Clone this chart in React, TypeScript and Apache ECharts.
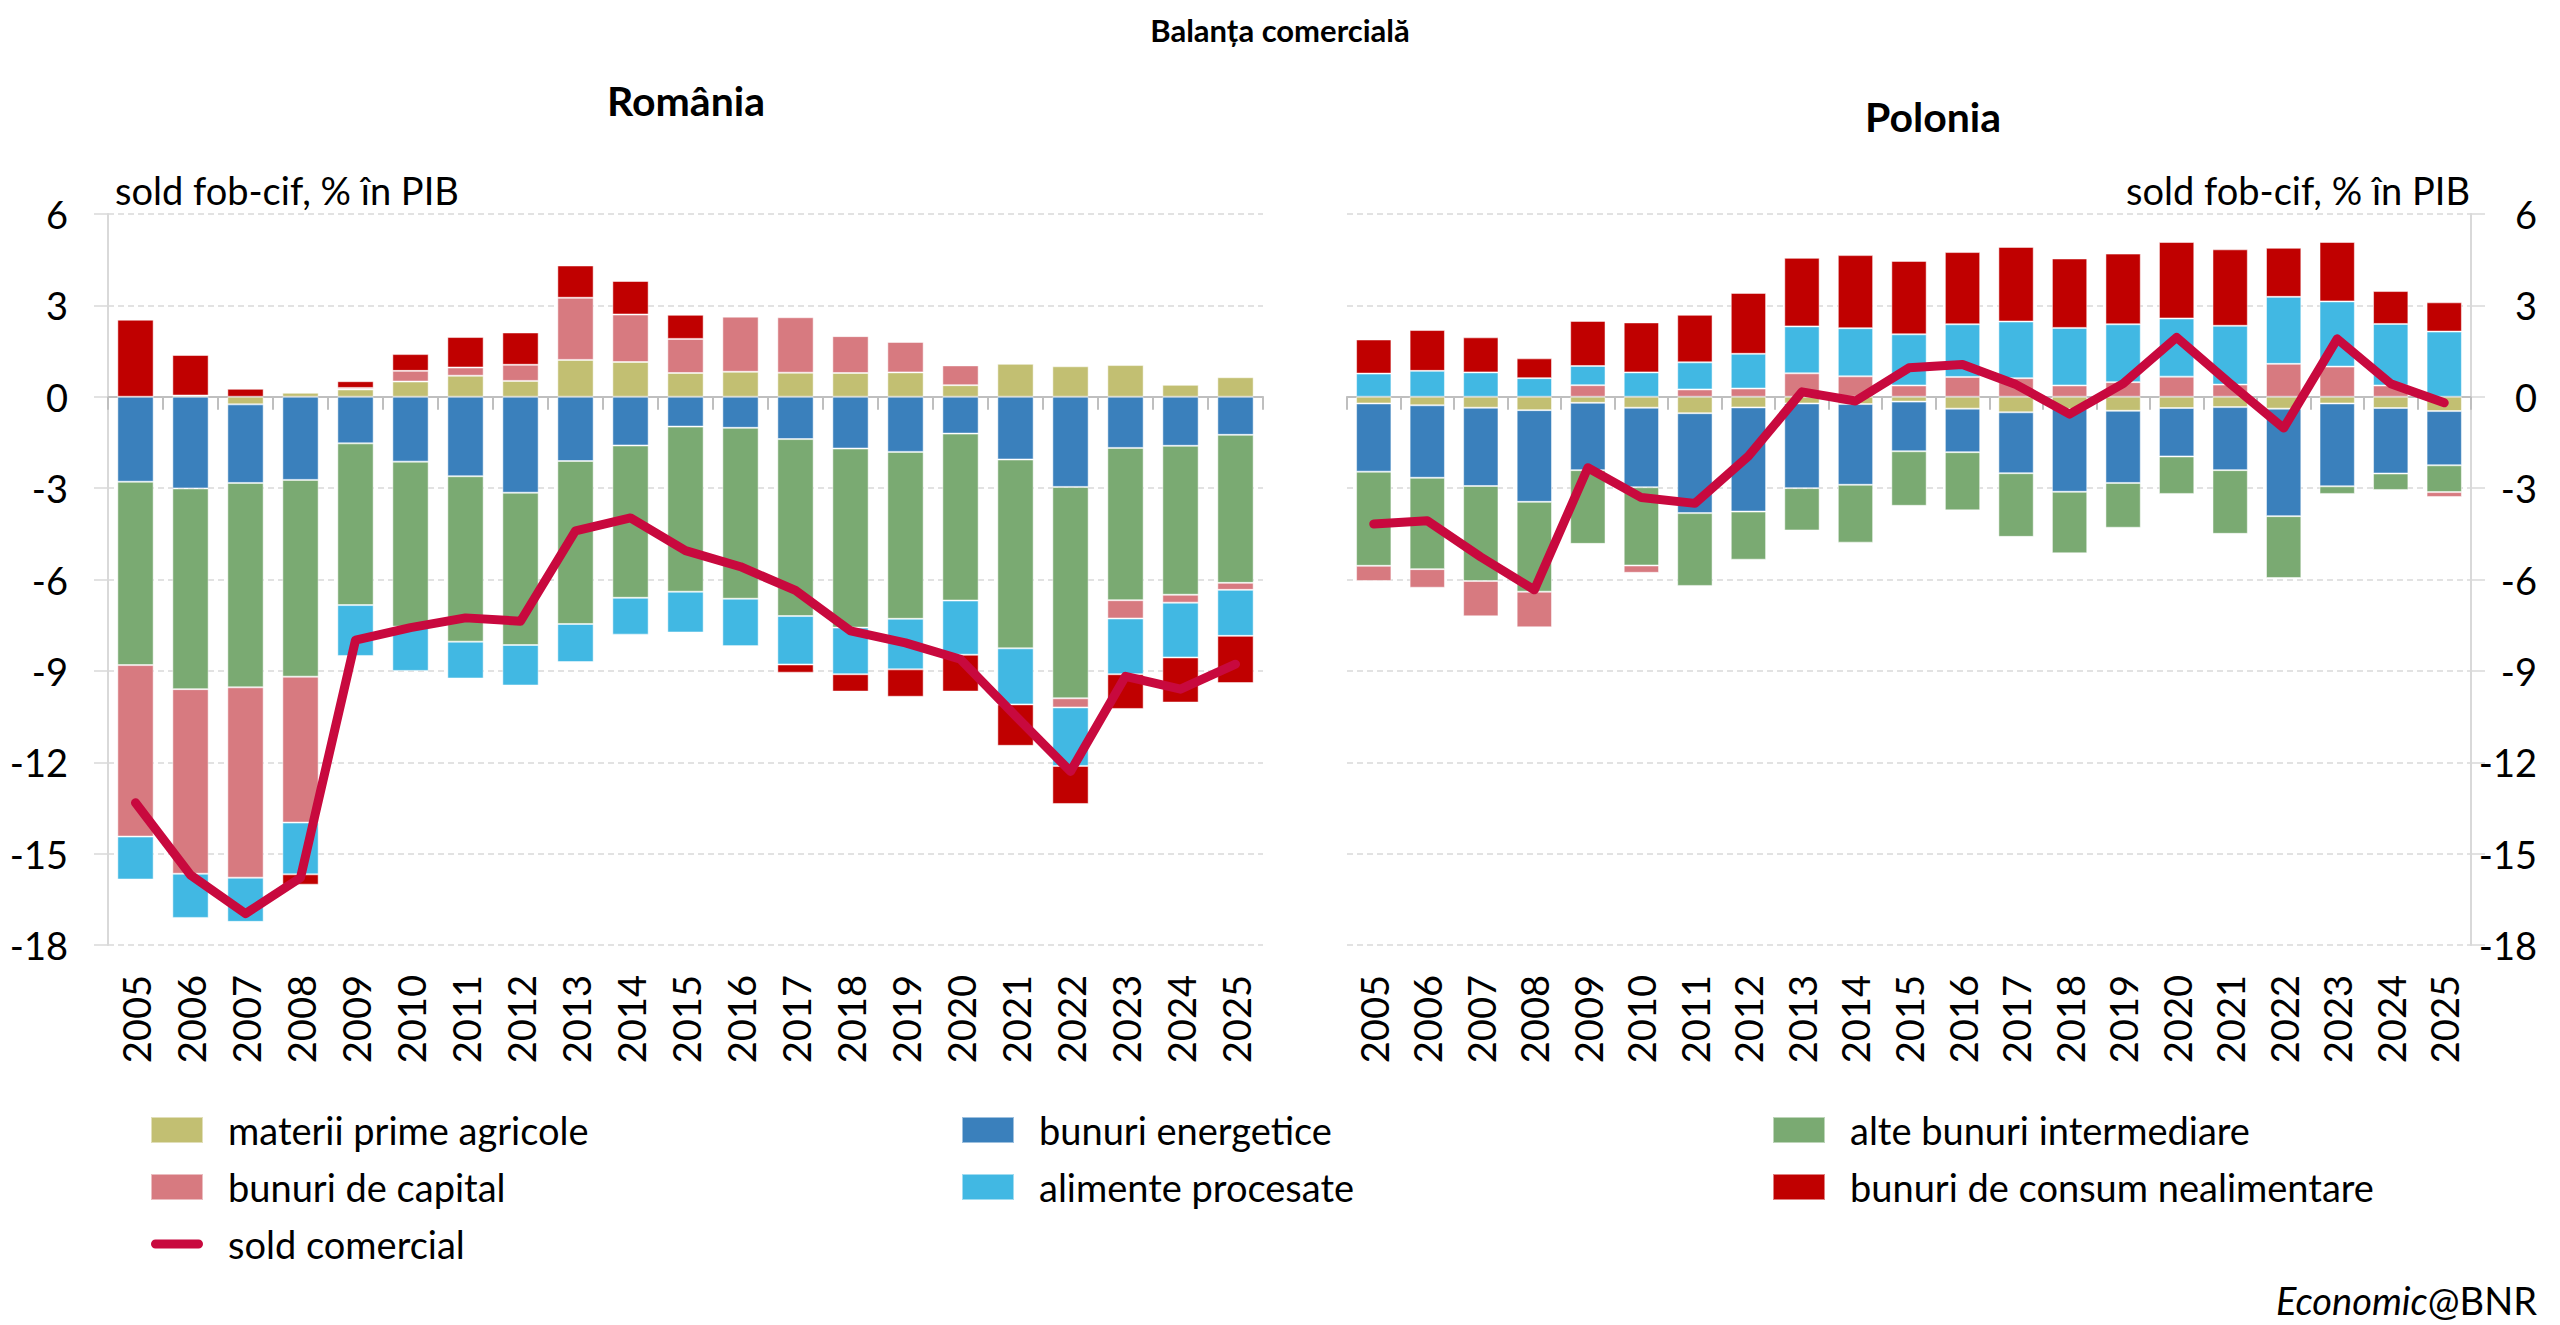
import { useEffect, useRef } from 'react'
import * as echarts from 'echarts'

const years = [
  '2005', '2006', '2007', '2008', '2009', '2010', '2011', '2012', '2013', '2014', '2015',
  '2016', '2017', '2018', '2019', '2020', '2021', '2022', '2023', '2024', '2025',
]

// România, % in PIB
const roAgri = [0, 0.04, -0.25, 0.13, 0.24, 0.5, 0.69, 0.52, 1.21, 1.14, 0.78, 0.82, 0.79, 0.78, 0.8, 0.38, 1.08, 1.0, 1.04, 0.39, 0.64]
const roEnerg = [-2.79, -3.01, -2.58, -2.73, -1.53, -2.13, -2.61, -3.15, -2.11, -1.6, -0.98, -1.02, -1.39, -1.7, -1.81, -1.21, -2.06, -2.96, -1.68, -1.61, -1.25]
const roInterm = [-6.02, -6.59, -6.71, -6.46, -5.31, -5.42, -5.43, -5.0, -5.35, -5.0, -5.42, -5.61, -5.81, -5.88, -5.48, -5.48, -6.2, -6.94, -5.0, -4.89, -4.86]
const roCapital = [-5.63, -6.06, -6.25, -4.79, 0.05, 0.35, 0.27, 0.53, 2.04, 1.56, 1.12, 1.81, 1.82, 1.21, 1.0, 0.65, 0.03, -0.3, -0.6, -0.26, -0.23]
const roAlim = [-1.41, -1.45, -1.45, -1.7, -1.67, -1.45, -1.21, -1.33, -1.25, -1.21, -1.34, -1.56, -1.59, -1.53, -1.66, -1.78, -1.84, -1.92, -1.83, -1.8, -1.51]
const roConsum = [2.53, 1.33, 0.26, -0.34, 0.22, 0.55, 1.0, 1.06, 1.06, 1.1, 0.79, 0, -0.27, -0.57, -0.9, -1.21, -1.36, -1.25, -1.14, -1.48, -1.55]
const roSold = [-13.33, -15.7, -16.97, -15.79, -7.99, -7.58, -7.26, -7.37, -4.4, -3.98, -5.05, -5.58, -6.36, -7.69, -8.08, -8.62, -10.48, -12.3, -9.18, -9.6, -8.78]

// Polonia, % in PIB
const plAgri = [-0.22, -0.28, -0.36, -0.44, -0.2, -0.36, -0.54, -0.35, -0.22, -0.24, -0.16, -0.39, -0.51, -0.4, -0.46, -0.37, -0.34, -0.39, -0.22, -0.37, -0.47]
const plEnerg = [-2.24, -2.38, -2.57, -3.01, -2.21, -2.61, -3.28, -3.42, -2.78, -2.65, -1.63, -1.43, -2.0, -2.72, -2.37, -1.59, -2.07, -3.53, -2.72, -2.15, -1.78]
const plInterm = [-3.09, -3.0, -3.12, -2.95, -2.42, -2.57, -2.39, -1.58, -1.39, -1.9, -1.79, -1.91, -2.09, -2.02, -1.47, -1.23, -2.09, -2.03, -0.25, -0.54, -0.88]
const plCapital = [-0.5, -0.61, -1.16, -1.17, 0.38, -0.24, 0.24, 0.27, 0.77, 0.67, 0.37, 0.65, 0.61, 0.37, 0.48, 0.66, 0.4, 1.08, 0.99, 0.37, -0.16]
const plAlim = [0.76, 0.85, 0.8, 0.61, 0.63, 0.8, 0.89, 1.14, 1.54, 1.58, 1.68, 1.73, 1.86, 1.89, 1.9, 1.91, 1.93, 2.2, 2.14, 2.02, 2.14]
const plConsum = [1.12, 1.34, 1.15, 0.65, 1.48, 1.64, 1.56, 2.0, 2.25, 2.4, 2.41, 2.37, 2.45, 2.28, 2.32, 2.51, 2.51, 1.61, 1.95, 1.08, 0.96]
const plSold = [-4.18, -4.07, -5.26, -6.34, -2.33, -3.31, -3.5, -1.95, 0.16, -0.14, 0.95, 1.06, 0.4, -0.57, 0.43, 1.95, 0.43, -1.03, 1.9, 0.43, -0.2]

const FONT = 'Lato, "Open Sans", sans-serif'
const GRID_LINE = '#d9d9d9'
const ZERO_LINE = '#bfbfbf'

const components = [
  { name: 'materii prime agricole', color: '#c2bf72' },
  { name: 'bunuri energetice', color: '#3a80bc' },
  { name: 'alte bunuri intermediare', color: '#7aaa72' },
  { name: 'bunuri de capital', color: '#d77a80' },
  { name: 'alimente procesate', color: '#41b8e3' },
  { name: 'bunuri de consum nealimentare', color: '#c00000' },
]
const soldName = 'sold comercial'
const soldColor = '#c8093e'
// pill-shaped legend mark for the line series
const pillIcon = 'path://M5,0 L53,0 A5,5 0 0 1 53,10 L5,10 A5,5 0 0 1 5,0 Z'

function barSeries(idx: number, stack: string, values: number[][]) {
  return components.map((c, i) => ({
    name: c.name,
    type: 'bar',
    stack,
    xAxisIndex: idx * 2,
    yAxisIndex: idx,
    barCategoryGap: '34%',
    itemStyle: { color: c.color, borderColor: 'rgba(255,255,255,0.5)', borderWidth: 1 },
    data: values[i],
  }))
}

function lineSeries(idx: number, values: number[]) {
  return {
    name: soldName,
    type: 'line',
    xAxisIndex: idx * 2,
    yAxisIndex: idx,
    symbol: 'none',
    z: 5,
    itemStyle: { color: soldColor },
    lineStyle: { color: soldColor, width: 9, join: 'round', cap: 'round' },
    data: values,
  }
}

function labelAxis(gridIndex: number) {
  return {
    type: 'category',
    gridIndex,
    data: years,
    position: 'bottom',
    axisLine: { show: false, onZero: false },
    axisTick: { show: false },
    axisLabel: { rotate: 90, margin: 30, fontSize: 38, color: '#000', fontFamily: FONT },
  }
}

function zeroAxis(gridIndex: number) {
  return {
    type: 'category',
    gridIndex,
    data: years,
    position: 'top',
    axisLine: { show: true, onZero: true, lineStyle: { color: ZERO_LINE, width: 2 } },
    axisTick: { show: true, inside: true, length: 13, lineStyle: { color: ZERO_LINE, width: 2 } },
    axisLabel: { show: false },
  }
}

function valueAxis(gridIndex: number, right: boolean) {
  return {
    type: 'value',
    gridIndex,
    position: right ? 'right' : 'left',
    min: -18,
    max: 6,
    interval: 3,
    axisLine: { show: true, lineStyle: { color: GRID_LINE, width: 2 } },
    axisTick: { show: true, length: 14, lineStyle: { color: GRID_LINE, width: 1.5 } },
    axisLabel: {
      fontSize: 38,
      color: '#000',
      fontFamily: FONT,
      margin: right ? 66 : 40,
      align: 'right',
    },
    splitLine: { show: true, lineStyle: { color: GRID_LINE, width: 1.5, type: [6, 4] } },
  }
}

function textEl(text: string, x: number, y: number, size: number, align: string, bold = false) {
  return {
    type: 'text',
    x,
    y,
    style: {
      text,
      fontSize: size,
      fontWeight: bold ? 'bold' : 'normal',
      fontFamily: FONT,
      fill: '#000',
      align,
      textAlign: align,
      verticalAlign: 'middle',
      textVerticalAlign: 'middle',
    },
  }
}

function legendCol(left: number, names: string[]) {
  return {
    orient: 'vertical',
    left,
    top: 1102,
    itemWidth: 52,
    itemHeight: 26,
    itemGap: 11,
    selectedMode: false,
    symbolKeepAspect: true,
    textStyle: { fontSize: 38, color: '#000', fontFamily: FONT, lineHeight: 46, padding: [0, 0, 0, 20] },
    data: names.map((n) =>
      n === soldName
        ? { name: n, icon: pillIcon, itemStyle: { color: soldColor } }
        : { name: n, icon: 'rect' },
    ),
  }
}

export default function App() {
  const chartRef = useRef<HTMLDivElement>(null)

  useEffect(() => {
    if (!chartRef.current) return
    document.body.style.margin = '0'
    const chart = echarts.init(chartRef.current, null, { renderer: 'svg' })

    const option: any = {
      animation: false,
      backgroundColor: '#fff',
      grid: [
        { left: 108, top: 214, width: 1155, height: 731 },
        { left: 1347, top: 214, width: 1124, height: 731 },
      ],
      xAxis: [labelAxis(0), zeroAxis(0), labelAxis(1), zeroAxis(1)],
      yAxis: [valueAxis(0, false), valueAxis(1, true)],
      legend: [
        legendCol(145, ['materii prime agricole', 'bunuri de capital', soldName]),
        legendCol(956, ['bunuri energetice', 'alimente procesate']),
        legendCol(1767, ['alte bunuri intermediare', 'bunuri de consum nealimentare']),
      ],
      graphic: [
        textEl('Balanța comercială', 1280, 30, 31, 'center', true),
        textEl('România', 686, 100, 41, 'center', true),
        textEl('Polonia', 1933, 116, 41, 'center', true),
        textEl('sold fob-cif, % în PIB', 115, 190, 38, 'left'),
        textEl('sold fob-cif, % în PIB', 2470, 190, 38, 'right'),
        {
          type: 'text',
          x: 2537,
          y: 1300,
          style: {
            text: '{i|Economic}{n|@BNR}',
            align: 'right',
            textAlign: 'right',
            verticalAlign: 'middle',
            textVerticalAlign: 'middle',
            rich: {
              i: { fontSize: 38, fontStyle: 'italic', fontFamily: FONT, fill: '#000', color: '#000' },
              n: { fontSize: 38, fontFamily: FONT, fill: '#000', color: '#000' },
            },
          },
        },
      ],
      series: [
        ...barSeries(0, 'ro', [roAgri, roEnerg, roInterm, roCapital, roAlim, roConsum]),
        lineSeries(0, roSold),
        ...barSeries(1, 'pl', [plAgri, plEnerg, plInterm, plCapital, plAlim, plConsum]),
        lineSeries(1, plSold),
      ],
    }

    chart.setOption(option)

    return () => {
      chart.dispose()
    }
  }, [])

  return <div ref={chartRef} style={{ width: '2560px', height: '1325px' }} />
}
